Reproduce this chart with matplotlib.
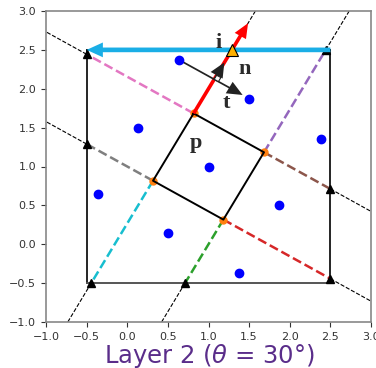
import numpy as np
import matplotlib
matplotlib.use('Agg')
import matplotlib.pyplot as plt
from matplotlib.patches import Polygon

# ---- data ----
theta_deg = 30
square_center = (1.0, 1.0)
square_side = 1.0
rect_lo, rect_hi = -0.5, 2.5
ax_lo, ax_hi = -1.0, 3.0
ticks = [-1.0, -0.5, 0.0, 0.5, 1.0, 1.5, 2.0, 2.5, 3.0]
pts_x = [0.64, 1.50, 0.13, 2.38, 1.00, -0.36, 1.87, 0.50, 1.37]
pts_y = [2.37, 1.87, 1.50, 1.36, 1.00, 0.64, 0.50, 0.14, -0.37]
seg_colors = ['tab:pink', 'tab:purple', 'tab:brown', 'tab:red',
              'tab:green', 'tab:cyan', 'tab:gray']
t_start = (0.64, 2.37)
t_len = 0.90
n_len = 0.25
p_arrow_len = 1.34
labels = ['i', 'n', 't', 'p']
label_x = [1.13, 1.445, 1.215, 0.846]
label_y = [2.525, 2.19, 1.75, 1.24]
title = r'Layer 2 ($\theta$ = 30°)'

# ---- geometry ----
th = np.deg2rad(-theta_deg)
u = np.array([np.cos(th), np.sin(th)])      # tangent direction
v = np.array([-np.sin(th), np.cos(th)])     # normal direction
c = np.array(square_center)
h = square_side / 2
TL = c - h * u + h * v
TR = c + h * u + h * v
BR = c + h * u - h * v
BL = c - h * u - h * v


def exit_point(p, d, lo, hi):
    ts = []
    for i in range(2):
        if d[i] > 1e-12:
            ts.append((hi - p[i]) / d[i])
        elif d[i] < -1e-12:
            ts.append((lo - p[i]) / d[i])
    return p + min(ts) * d


rays = [(TL, -u), (TR, v), (TR, u), (BR, u), (BR, -v), (BL, -v), (BL, -u)]

fig = plt.figure(figsize=(3.76, 3.68), dpi=100)
ax = fig.add_axes([46 / 376, 1 - 322 / 368, 325 / 376, 311 / 368])
ax.set_xlim(ax_lo, ax_hi)
ax.set_ylim(ax_lo, ax_hi)
ax.set_xticks(ticks)
ax.set_yticks(ticks)
ax.tick_params(labelsize=8, colors='#333333', length=3.5, width=0.8)
for s in ax.spines.values():
    s.set_color('#888888')
    s.set_linewidth(1.2)

# outer rectangle
ax.plot([rect_lo, rect_lo], [rect_lo, rect_hi], color='black', lw=1.2, zorder=2)
ax.plot([rect_hi, rect_hi], [rect_lo, rect_hi], color='black', lw=1.2, zorder=2)
ax.plot([rect_lo, rect_hi], [rect_lo, rect_lo], color='#555555', lw=1.4, zorder=2)
ax.plot([rect_lo, rect_hi], [rect_hi, rect_hi], color='black', lw=1.2, zorder=2)

# rays
for (p, d), col in zip(rays, seg_colors):
    e = exit_point(p, d, rect_lo, rect_hi)
    f = exit_point(e, d, ax_lo, ax_hi)
    ax.plot([p[0], e[0]], [p[1], e[1]], color=col, lw=1.8, ls='--', zorder=3)
    ax.plot([e[0], f[0]], [e[1], f[1]], color='black', lw=0.8, ls='--', zorder=2)
    ax.plot(e[0], e[1], marker='^', color='black', ms=6, zorder=4.5)

# red ray: dashed continuation + arrow
ei = exit_point(TL, v, rect_lo, rect_hi)
fi = exit_point(ei, v, ax_lo, ax_hi)
ax.plot([ei[0], fi[0]], [ei[1], fi[1]], color='black', lw=0.8, ls='--', zorder=2)

# square
sq = np.array([TL, TR, BR, BL, TL])
ax.plot(sq[:, 0], sq[:, 1], color='black', lw=1.4, zorder=4)
ax.plot(sq[:4, 0], sq[:4, 1], 'o', color='tab:orange', ms=5, zorder=3.5)

# cyan arrow along the top edge
ax.arrow(rect_hi, rect_hi, rect_lo - rect_hi, 0, width=0.06, head_width=0.19,
         head_length=0.2, length_includes_head=True, color='#1aaee6', lw=0, zorder=5)

# red arrow
ax.arrow(TL[0], TL[1], *(p_arrow_len * v), width=0.045, head_width=0.16,
         head_length=0.19, length_includes_head=True, color='red', lw=0, zorder=6)

# orange triangle
ax.plot(ei[0], ei[1], marker='^', color='#ffb000', mec='black', mew=0.8, ms=8.5, zorder=8)

# t arrow
ts = np.array(t_start)
ax.arrow(ts[0], ts[1], *(t_len * u), width=0.022, head_width=0.17,
         head_length=0.19, length_includes_head=True, color='#222222', lw=0, zorder=7)

# intersection of t arrow with red ray
A = np.column_stack([v, -u])
r, s = np.linalg.solve(A, ts - TL)
I = TL + r * v
ax.arrow(I[0], I[1], *(n_len * v), width=0.022, head_width=0.17,
         head_length=0.19, length_includes_head=True, color='#222222', lw=0, zorder=7)
m = 0.06
ax.add_patch(Polygon([I, I + m * u, I + m * u + m * v, I + m * v], closed=True,
                     fc='white', ec='#222222', lw=0.8, zorder=7.5))

# data points
ax.plot(pts_x, pts_y, 'o', color='blue', ms=6, zorder=9)

# labels
for lab, lx, ly in zip(labels, label_x, label_y):
    ax.text(lx, ly, lab, fontsize=16, fontweight='bold', family='Liberation Serif',
            color='#2b2b2b', ha='center', va='baseline', zorder=10)

fig.text(209 / 376, 1 - 355.5 / 368, title, fontsize=17.5, color='#5a2d8a',
         ha='center', va='center')

fig.savefig('out.png', dpi=100)
